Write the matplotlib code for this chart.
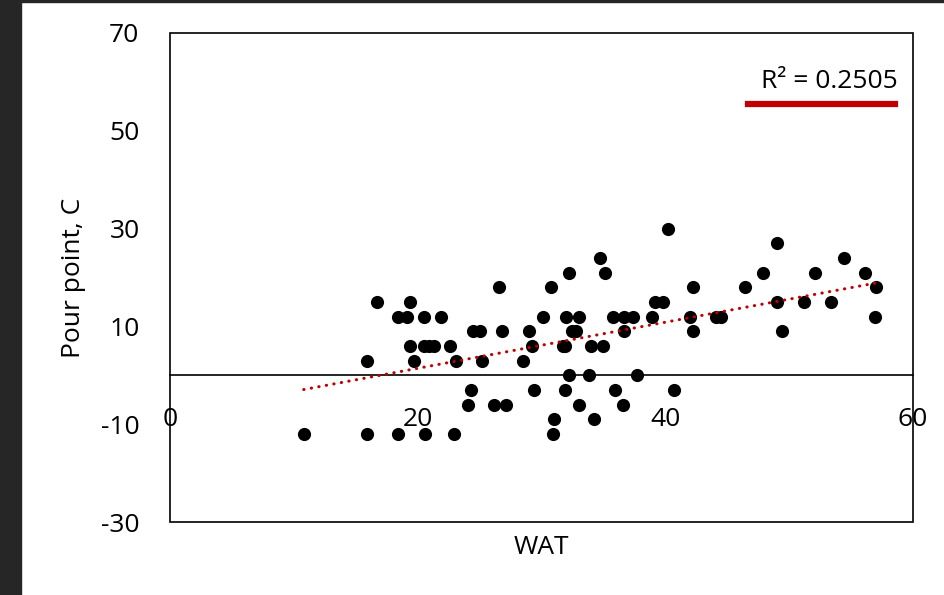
import numpy as np
import matplotlib
matplotlib.use("Agg")
import matplotlib.pyplot as plt
from matplotlib.patches import Rectangle
from matplotlib.lines import Line2D

# WAT vs pour point
wat = [16.7, 19.4, 18.4, 19.1, 19.4, 15.9, 19.7, 10.8, 15.9, 18.4,
       20.5, 21.9, 20.5, 20.9, 21.3, 22.6, 23.1, 25.2, 28.5, 24.5,
       25.0, 26.8, 29.0, 26.6, 30.8, 32.2, 34.7, 35.1, 30.1, 32.0,
       33.0, 35.8, 36.7, 37.4, 38.9, 39.2, 29.2, 31.7, 31.9, 32.5,
       32.8, 34.0, 35.0, 36.7, 32.2, 33.8, 37.7, 24.3, 29.4, 31.9,
       35.9, 24.1, 26.2, 27.1, 33.0, 36.6, 31.0, 34.2, 20.6, 22.9,
       30.9, 40.2, 49.0, 54.4, 47.9, 52.1, 56.1, 42.2, 46.4, 57.0,
       39.8, 49.0, 51.2, 53.4, 42.0, 44.1, 44.5, 56.9, 42.2, 49.4,
       40.7]
pour = [15, 15, 12, 12, 6, 3, 3, -12, -12, -12,
        12, 12, 6, 6, 6, 6, 3, 3, 3, 9,
        9, 9, 9, 18, 18, 21, 24, 21, 12, 12,
        12, 12, 12, 12, 12, 15, 6, 6, 6, 9,
        9, 6, 6, 9, 0, 0, 0, -3, -3, -3,
        -3, -6, -6, -6, -6, -6, -9, -9, -12, -12,
        -12, 30, 27, 24, 21, 21, 21, 18, 18, 18,
        15, 15, 15, 15, 12, 12, 12, 12, 9, 9,
        -3]
r2_text = "R\u00b2 = 0.2505"
xticks = [0, 20, 40, 60]
yticks = [-30, -10, 10, 30, 50, 70]

plt.rcParams['font.family'] = ['Open Sans', 'DejaVu Sans']
plt.rcParams['axes.unicode_minus'] = False

fig = plt.figure(figsize=(9.44, 5.95), dpi=100)
ax = fig.add_axes([170/944, 73/595, 743/944, 489/595])

ax.scatter(wat, pour, s=90, color='black', zorder=3, linewidths=0)

# linear trendline
x = np.array(wat)
k, b = np.polyfit(x, pour, 1)
xs = np.array([x.min(), x.max()])
ax.plot(xs, k*xs + b, color='#c00000', lw=2.2, linestyle=(0, (0.1, 2.4)),
        dash_capstyle='round', zorder=4)

ax.set_xlim(0, 60)
ax.set_ylim(-30, 70)
ax.set_xticks(xticks)
ax.set_yticks(yticks)
ax.tick_params(length=0, labelsize=19)
ax.tick_params(axis='y', pad=22)
ax.tick_params(axis='x', pad=23)

for s in ['top', 'right', 'left']:
    ax.spines[s].set_visible(False)
ax.spines['bottom'].set_position(('data', 0))
ax.spines['bottom'].set_linewidth(1.2)
ax.add_patch(Rectangle((0, 0), 1, 1, transform=ax.transAxes, fill=False,
                       lw=1.2, edgecolor='black', clip_on=False, zorder=5))

ax.set_ylabel("Pour point, C", fontsize=19, labelpad=11)
fig.text(541/944, 1 - 548/595, "WAT", fontsize=19, ha='center', va='center')

# legend-like label
fig.text(829/944, 1 - 82/595, r2_text, fontsize=19, ha='center', va='center')
fig.add_artist(Line2D([748/944, 895/944], [1 - 104/595] * 2, color='#c00000',
                      lw=4.5, transform=fig.transFigure))

# dark window edges
fig.patches.append(Rectangle((0, 0), 21/944, 1, transform=fig.transFigure,
                             color='#262626', zorder=-1))
fig.patches.append(Rectangle((0, 1 - 2/595), 1, 2/595, transform=fig.transFigure,
                             color='#262626', zorder=-1))

fig.savefig("out.png", dpi=100)
